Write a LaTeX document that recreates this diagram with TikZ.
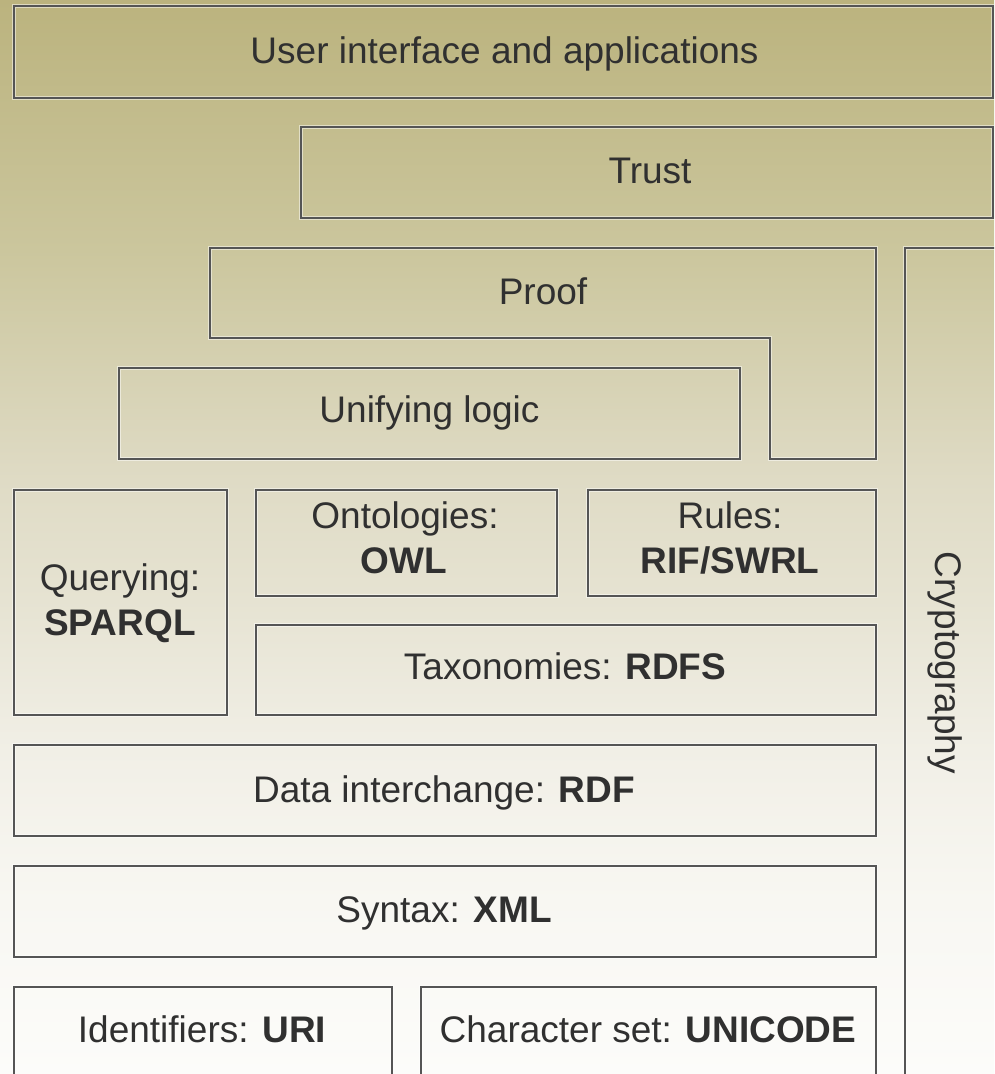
\documentclass[tikz,border=0pt]{standalone}
\usepackage{fontspec}
\setmainfont{Liberation Sans}
\definecolor{bgA}{HTML}{BBB37E}
\definecolor{bgB}{HTML}{CBC69D}
\definecolor{bgC}{HTML}{DFDBC5}
\definecolor{bgD}{HTML}{E6E3D2}
\definecolor{bgE}{HTML}{F1EFE6}
\definecolor{bgF}{HTML}{F8F7F2}
\definecolor{bgG}{HTML}{FCFCFA}
\definecolor{edge}{HTML}{555555}
\definecolor{txt}{HTML}{303030}
\pgfdeclareverticalshading{bgshade}{100bp}{color(0bp)=(bgG); color(25bp)=(bgG); color(33.1bp)=(bgF); color(40.08bp)=(bgE); color(47.07bp)=(bgD); color(52.65bp)=(bgC); color(63.36bp)=(bgB); color(75bp)=(bgA); color(100bp)=(bgA)}
\tikzset{
  layer/.style={draw=edge, line width=2pt, inner sep=0pt, outer sep=0pt,
    preaction={draw=white, line width=4.5pt, draw opacity=0.5}},
  lbl/.style={anchor=base, inner sep=0pt, outer sep=0pt, text=txt,
    font=\fontsize{37}{44}\selectfont},
}
\begin{document}
\begin{tikzpicture}[x=1pt,y=-1pt]
\useasboundingbox (0,0) rectangle (994,1074);
\clip (0,0) rectangle (994,1074);
\shade[shading=bgshade] (0,0) rectangle (994,1074);

% boxes
\node[layer, minimum width=979pt, minimum height=92pt] (ui) at (503.5,52) {};
\node[layer, minimum width=692pt, minimum height=91pt] (trust) at (647,172.5) {};
\draw[edge, line width=2pt, preaction={draw=white, line width=4.5pt, draw opacity=0.5}]
  (210,248) -- (876,248) -- (876,459) -- (770,459) -- (770,338) -- (210,338) -- cycle;
\node[layer, minimum width=621pt, minimum height=91pt] (logic) at (429.5,413.5) {};
\node[layer, minimum width=105pt, minimum height=852pt] (crypto) at (957.5,674) {};
\node[layer, minimum width=213pt, minimum height=225pt] (query) at (120.5,602.5) {};
\node[layer, minimum width=301pt, minimum height=106pt] (owl) at (406.5,543) {};
\node[layer, minimum width=288pt, minimum height=106pt] (rules) at (732,543) {};
\node[layer, minimum width=620pt, minimum height=90pt] (rdfs) at (566,670) {};
\node[layer, minimum width=862pt, minimum height=91pt] (rdf) at (445,790.5) {};
\node[layer, minimum width=862pt, minimum height=91pt] (xml) at (445,911.5) {};
\node[layer, minimum width=378pt, minimum height=113pt] (uri) at (203,1043.5) {};
\node[layer, minimum width=455pt, minimum height=113pt] (unicode) at (648.5,1043.5) {};

% labels
\node[lbl] (tui) at (504.5,63) {User interface and applications};
\node[lbl] (ttrust) at (650,183) {Trust};
\node[lbl] (tproof) at (543,304) {Proof};
\node[lbl] (tlogic) at (429.5,422) {Unifying logic};
\node[lbl] (tquery1) at (120,590) {Querying:};
\node[lbl] (tquery2) at (120,635) {\bfseries SPARQL};
\node[lbl] (towl1) at (405,528) {Ontologies:};
\node[lbl] (towl2) at (404,573) {\bfseries OWL};
\node[lbl] (trules1) at (730,528) {Rules:};
\node[lbl] (trules2) at (730,573) {\bfseries RIF/SWRL};
\node[lbl] (trdfs) at (565,679) {Taxonomies: \textbf{RDFS}};
\node[lbl] (trdf) at (444,802) {Data interchange: \textbf{RDF}};
\node[lbl] (txml) at (444,922) {Syntax: \textbf{XML}};
\node[lbl] (turi) at (202,1042) {Identifiers: \textbf{URI}};
\node[lbl] (tunicode) at (648,1042) {Character set: \textbf{UNICODE}};
\node[lbl, rotate=-90] (tcrypto) at (935,663) {Cryptography};
\end{tikzpicture}
\end{document}
